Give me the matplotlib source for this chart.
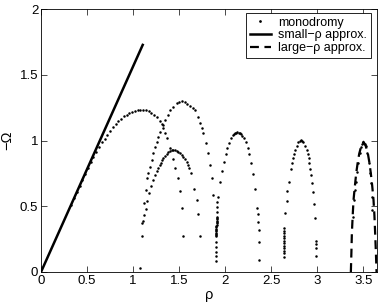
import matplotlib
matplotlib.use("Agg")
import matplotlib.pyplot as plt

plt.rcParams['font.family'] = ['Liberation Sans', 'DejaVu Sans']

# small-rho approximation (straight line)
small_rho = [0.0, 1.105]
small_omega = [0.0, 1.727]

# large-rho approximation (dashed arch)
large_rho = [3.366, 3.372, 3.377, 3.386, 3.395, 3.41, 3.424, 3.44, 3.457, 3.48, 3.503,
             3.527, 3.551, 3.568, 3.583, 3.598, 3.612, 3.622, 3.63, 3.638, 3.645]
large_omega = [0.0, 0.15, 0.294, 0.43, 0.548, 0.655, 0.75, 0.83, 0.90, 0.96, 0.99,
               0.96, 0.90, 0.83, 0.75, 0.655, 0.548, 0.43, 0.294, 0.15, 0.0]

# monodromy points, branch by branch
arc_a_rho = [0.33, 0.36, 0.39, 0.42, 0.45, 0.48, 0.51, 0.54, 0.57, 0.60, 0.63, 0.66, 0.69,
             0.72, 0.75, 0.78, 0.81, 0.84, 0.87, 0.90, 0.93, 0.96, 0.99, 1.02, 1.05, 1.08,
             1.11, 1.14, 1.17, 1.20, 1.23, 1.26, 1.29, 1.31, 1.33, 1.35, 1.37, 1.40, 1.43,
             1.457, 1.486, 1.511, 1.529, 1.547]
arc_a_omega = [0.51, 0.56, 0.61, 0.655, 0.70, 0.745, 0.79, 0.835, 0.875, 0.915, 0.95, 0.985,
               1.015, 1.045, 1.075, 1.10, 1.125, 1.145, 1.165, 1.183, 1.197, 1.209, 1.218,
               1.225, 1.229, 1.231, 1.232, 1.23, 1.222, 1.21, 1.195, 1.175, 1.15, 1.125,
               1.095, 1.06, 1.02, 0.94, 0.86, 0.789, 0.712, 0.616, 0.484, 0.274]

arc_b_rho = [1.076, 1.094, 1.105, 1.12, 1.138, 1.156, 1.167, 1.185, 1.203, 1.221, 1.239,
             1.257, 1.275, 1.293, 1.32, 1.348, 1.377, 1.402, 1.438, 1.475, 1.503, 1.529,
             1.565, 1.59, 1.62, 1.648, 1.674, 1.71, 1.728, 1.746, 1.764, 1.793, 1.819,
             1.837, 1.855, 1.873]
arc_b_omega = [0.033, 0.276, 0.385, 0.522, 0.624, 0.712, 0.75, 0.80, 0.852, 0.907, 0.953,
               0.991, 1.029, 1.067, 1.115, 1.156, 1.194, 1.232, 1.257, 1.283, 1.293, 1.297,
               1.29, 1.28, 1.265, 1.25, 1.232, 1.181, 1.131, 1.095, 1.055, 0.979, 0.903,
               0.814, 0.712, 0.586]

cluster_rho = [1.928, 1.917, 1.915, 1.912, 1.91, 1.909, 1.909, 1.908, 1.908, 1.907, 1.907,
               1.906, 1.906, 1.905, 1.905, 1.904, 1.904, 1.903, 1.903, 1.902, 1.90, 1.899,
               1.898, 1.897, 1.896]
cluster_omega = [0.568, 0.535, 0.497, 0.46, 0.42, 0.41, 0.40, 0.39, 0.38, 0.37, 0.36, 0.35,
                 0.34, 0.33, 0.32, 0.31, 0.30, 0.29, 0.28, 0.27, 0.23, 0.19, 0.155, 0.12,
                 0.084]

hump_rho = [1.101, 1.12, 1.138, 1.156, 1.178, 1.196, 1.214, 1.239, 1.257, 1.275, 1.29,
            1.304, 1.318, 1.33, 1.348, 1.366, 1.384, 1.402, 1.42, 1.438, 1.456, 1.475,
            1.493, 1.511, 1.529, 1.547, 1.565, 1.583, 1.598, 1.612, 1.63, 1.663, 1.692,
            1.71, 1.728]
hump_omega = [0.375, 0.43, 0.477, 0.542, 0.603, 0.656, 0.70, 0.738, 0.765, 0.789, 0.81,
              0.831, 0.85, 0.865, 0.882, 0.897, 0.91, 0.92, 0.926, 0.928, 0.926, 0.92,
              0.912, 0.903, 0.891, 0.877, 0.86, 0.839, 0.815, 0.789, 0.75, 0.629, 0.548,
              0.439, 0.274]

arc_c_rho = [1.946, 1.97, 1.989, 2.007, 2.025, 2.043, 2.062, 2.083, 2.096, 2.109, 2.122,
             2.134, 2.148, 2.163, 2.176, 2.188, 2.21, 2.225, 2.247, 2.264, 2.286, 2.308,
             2.326, 2.351, 2.355, 2.362, 2.37, 2.37, 2.373]
arc_c_omega = [0.687, 0.77, 0.839, 0.897, 0.945, 0.983, 1.017, 1.042, 1.05, 1.055, 1.06,
               1.062, 1.06, 1.055, 1.047, 1.037, 1.017, 0.986, 0.945, 0.897, 0.831, 0.745,
               0.631, 0.489, 0.441, 0.383, 0.319, 0.23, 0.091]

arc_d_rho = [2.641, 2.641, 2.641, 2.641, 2.641, 2.641, 2.641, 2.641, 2.641, 2.641, 2.641,
             2.641, 2.656, 2.67, 2.677, 2.696, 2.714, 2.725, 2.735, 2.75, 2.761, 2.779,
             2.797, 2.81, 2.823, 2.837, 2.851, 2.87, 2.888, 2.899, 2.906, 2.916, 2.925,
             2.935, 2.949, 2.96, 2.967, 2.978, 2.989, 2.989, 2.989, 2.99]
arc_d_omega = [0.116, 0.142, 0.16, 0.18, 0.198, 0.218, 0.236, 0.256, 0.274, 0.294, 0.312,
               0.332, 0.446, 0.542, 0.618, 0.682, 0.783, 0.826, 0.865, 0.895, 0.928, 0.961,
               0.986, 0.998, 1.004, 0.999, 0.991, 0.961, 0.928, 0.895, 0.865, 0.826, 0.78,
               0.738, 0.679, 0.611, 0.517, 0.408, 0.236, 0.21, 0.18, 0.124]

arc_e_rho = [3.384, 3.395, 3.413, 3.42, 3.431, 3.449, 3.467, 3.475, 3.49, 3.503, 3.518,
             3.533, 3.54, 3.558, 3.569, 3.583, 3.594, 3.601]
arc_e_omega = [0.42, 0.548, 0.624, 0.687, 0.763, 0.826, 0.903, 0.953, 0.975, 0.983, 0.975,
               0.958, 0.903, 0.826, 0.75, 0.675, 0.573, 0.471]

mono_rho = arc_a_rho + arc_b_rho + cluster_rho + hump_rho + arc_c_rho + arc_d_rho + arc_e_rho
mono_omega = (arc_a_omega + arc_b_omega + cluster_omega + hump_omega + arc_c_omega
              + arc_d_omega + arc_e_omega)

fig = plt.figure(figsize=(3.82, 3.05), dpi=100)
ax = fig.add_axes([41 / 382, 33 / 305, 336 / 382, 263 / 305])

ax.plot(mono_rho, mono_omega, linestyle='none', marker='.', markersize=1.6,
        color='black', label='monodromy')
ax.plot(small_rho, small_omega, color='black', linewidth=1.8, label='small\u2212\u03c1 approx.')
ax.plot(large_rho, large_omega, color='black', linewidth=1.6, linestyle=(0, (4, 2.5)),
        label='large\u2212\u03c1 approx.')

ax.set_xlim(0, 3.65)
ax.set_ylim(0, 2)
ax.set_xticks([0, 0.5, 1, 1.5, 2, 2.5, 3, 3.5])
ax.set_xticklabels(['0', '0.5', '1', '1.5', '2', '2.5', '3', '3.5'])
ax.set_yticks([0, 0.5, 1, 1.5, 2])
ax.set_yticklabels(['0', '0.5', '1', '1.5', '2'])
ax.tick_params(direction='in', length=4, width=0.5, labelsize=9.5, top=True, right=True, pad=2)
for s in ax.spines.values():
    s.set_linewidth(0.6)

ax.set_xlabel('\u03c1', fontsize=10.5, labelpad=1)
ax.set_ylabel('\u2212\u03a9', fontsize=10.5, labelpad=4)

leg = ax.legend(loc='upper right', bbox_to_anchor=(0.982, 0.985), borderaxespad=0,
                fontsize=9, frameon=True, fancybox=False, framealpha=1, edgecolor='black',
                handlelength=1.7, handletextpad=0.6, labelspacing=0.05, borderpad=0.3,
                markerscale=1.2)
leg.get_frame().set_linewidth(0.6)

fig.savefig('out.png', dpi=100)
